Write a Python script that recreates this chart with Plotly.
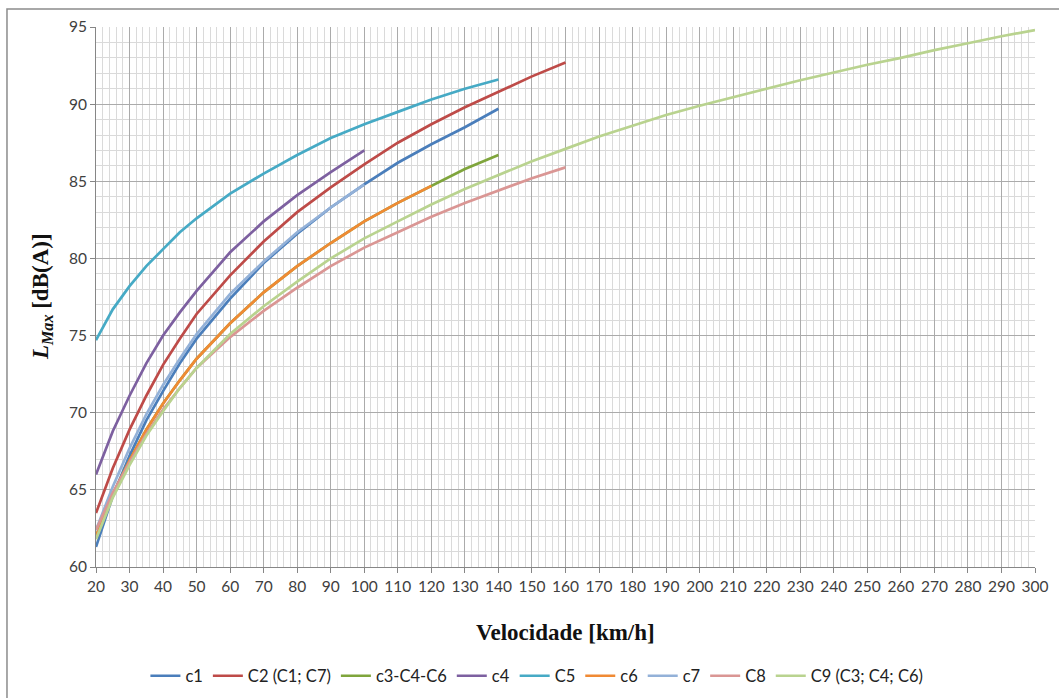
import plotly.graph_objects as go

# ---- data ----
v140 = [20, 25, 30, 35, 40, 45, 50, 60, 70, 80, 90, 100, 110, 120, 130, 140]
v160 = v140 + [150, 160]
v100 = [20, 25, 30, 35, 40, 45, 50, 60, 70, 80, 90, 100]
v300 = [20, 25, 30, 35, 40, 45, 50, 60, 70, 80, 90, 100, 110, 120, 130, 140, 150,
        160, 170, 180, 190, 200, 210, 220, 230, 240, 250, 260, 270, 280, 290, 300]
v120 = [20, 25, 30, 35, 40, 45, 50, 60, 70, 80, 90, 100, 110, 120]

c1 = [61.3, 64.6, 67.2, 69.5, 71.4, 73.2, 74.8, 77.4, 79.7, 81.6, 83.3, 84.8, 86.2, 87.4, 88.5, 89.7]
c2 = [63.5, 66.4, 68.9, 71.1, 73.1, 74.8, 76.4, 78.9, 81.1, 83.0, 84.6, 86.1, 87.5, 88.7, 89.8, 90.8, 91.8, 92.7]
c3 = [62.0, 64.7, 66.9, 68.9, 70.6, 72.1, 73.5, 75.8, 77.8, 79.5, 81.0, 82.4, 83.6, 84.7, 85.8, 86.7]
c4 = [66.0, 68.8, 71.1, 73.2, 75.0, 76.5, 77.9, 80.4, 82.4, 84.1, 85.6, 87.0]
c5 = [74.7, 76.7, 78.2, 79.5, 80.6, 81.7, 82.6, 84.2, 85.5, 86.7, 87.8, 88.7, 89.5, 90.3, 91.0, 91.6]
c6 = [62.0, 64.7, 66.9, 68.9, 70.6, 72.1, 73.5, 75.8, 77.8, 79.5, 81.0, 82.4, 83.6, 84.7]
c7 = [62.4, 65.2, 67.7, 69.9, 71.8, 73.5, 75.1, 77.7, 79.8, 81.7, 83.3, 84.8]
c8 = [62.4, 64.8, 66.8, 68.6, 70.2, 71.6, 72.9, 74.9, 76.6, 78.1, 79.5, 80.7, 81.7, 82.7, 83.6, 84.4, 85.2, 85.9]
c9 = [61.8, 64.5, 66.6, 68.5, 70.1, 71.6, 72.9, 75.1, 76.9, 78.5, 80.0, 81.3, 82.4, 83.5, 84.5, 85.4, 86.3,
      87.1, 87.9, 88.6, 89.3, 89.9, 90.45, 91.0, 91.55, 92.05, 92.55, 93.0, 93.5, 93.95, 94.4, 94.8]

names = ["c1", "C2 (C1; C7)", "c3-C4-C6", "c4", "C5", "c6", "c7", "C8", "C9 (C3; C4; C6)"]
xs = [v140, v160, v140, v100, v140, v120, v100, v160, v300]
ys = [c1, c2, c3, c4, c5, c6, c7, c8, c9]
colors = ["#4A7EBB", "#BE4B48", "#7FA53C", "#7D60A0", "#46AAC5", "#F08A34", "#93B1D8", "#DA9694", "#B9D38F"]

fig = go.Figure()
for n, x, y, c in zip(names, xs, ys, colors):
    fig.add_trace(go.Scatter(x=x, y=y, name=n, mode="lines",
                             line=dict(color=c, width=2.7, shape="linear")))

tickfont = dict(family="Lato, Open Sans, sans-serif", size=15.5, color="#404040")

fig.update_layout(
    width=1059, height=698,
    margin=dict(l=96, r=24, t=27, b=131, autoexpand=False),
    paper_bgcolor="white", plot_bgcolor="white",
    showlegend=True,
    legend=dict(orientation="h", x=0.507, xref="container", xanchor="center",
                y=1 - 676 / 698, yref="container", yanchor="middle",
                font=dict(family="Lato, Open Sans, sans-serif", size=16.5, color="#222"),
                itemwidth=30, tracegroupgap=0),
    xaxis=dict(range=[20, 300], dtick=10, tick0=20, showgrid=True, gridcolor="#ABABAB", gridwidth=1,
               minor=dict(dtick=2, showgrid=True, gridcolor="#DADADA", gridwidth=1),
               showline=True, linecolor="#868686", linewidth=1, automargin=False,
               ticks="outside", ticklen=5, tickcolor="#868686",
               tickfont=tickfont, zeroline=False, fixedrange=True),
    yaxis=dict(range=[60, 95], dtick=5, tick0=60, showgrid=True, gridcolor="#ABABAB", gridwidth=1,
               minor=dict(dtick=1, showgrid=True, gridcolor="#DADADA", gridwidth=1),
               showline=True, linecolor="#868686", linewidth=1, automargin=False,
               ticks="outside", ticklen=5, tickcolor="#868686",
               tickfont=tickfont, zeroline=False, fixedrange=True),
)

fig.add_annotation(text="<b>Velocidade [km/h]</b>", xref="paper", yref="paper", x=0.5, y=-0.1204,
                   xanchor="center", yanchor="middle", showarrow=False,
                   font=dict(family="Liberation Serif, Times New Roman, serif", size=23, color="#111"))
fig.add_annotation(text="<b><i>L</i><sub><i>Max</i></sub> [dB(A)]</b>", xref="paper", yref="paper",
                   x=-0.0575, y=0.5, xanchor="center", yanchor="middle", textangle=-90, showarrow=False,
                   font=dict(family="Liberation Serif, Times New Roman, serif", size=23, color="#111"))

# outer chart border (only left and top edges fall inside the canvas)
fig.add_shape(type="rect", xref="paper", yref="paper", x0=-0.0948, y0=-0.6, x1=1.3, y1=1.0333,
              line=dict(color="#8C8C8C", width=1.5), fillcolor="rgba(0,0,0,0)", layer="below")

fig.write_html("out.html")
